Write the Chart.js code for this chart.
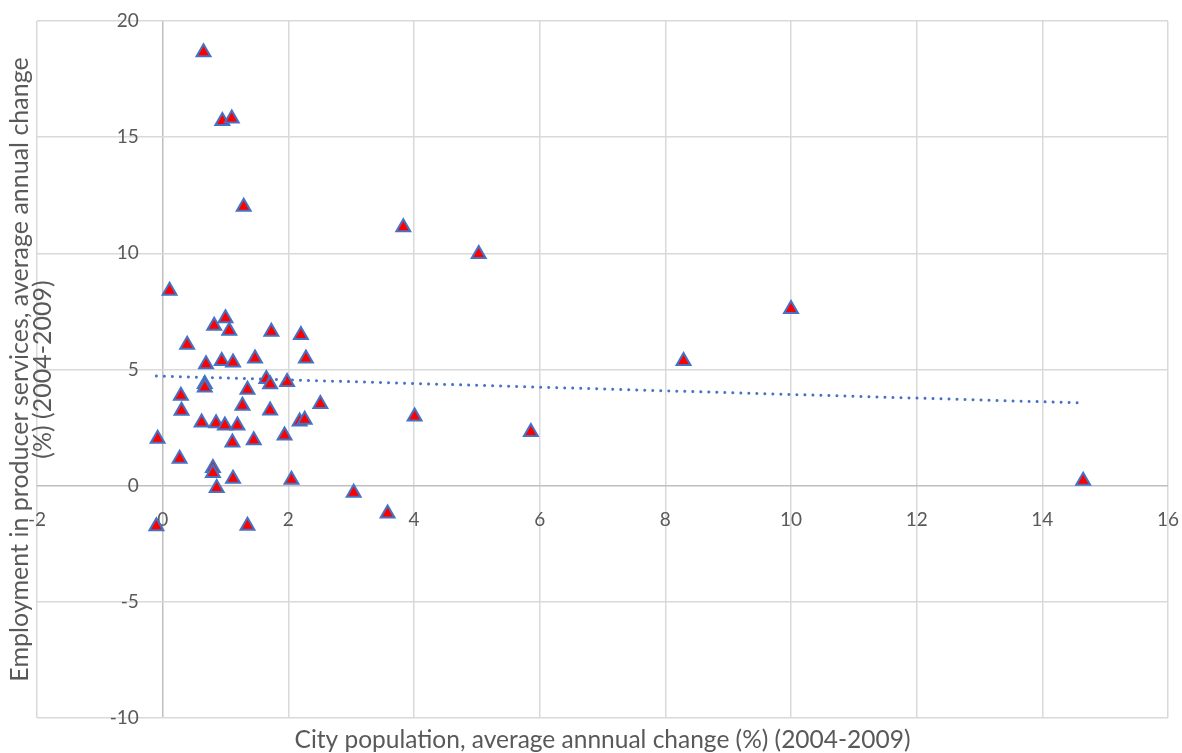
<!DOCTYPE html>
<html>
<head>
<meta charset="utf-8">
<script src="https://cdn.jsdelivr.net/npm/chart.js@4/dist/chart.umd.min.js"></script>
<style>
  body { margin: 0; background: #fff; }
  #wrap { width: 1182px; height: 753px; }
</style>
</head>
<body>
<div id="wrap"><canvas id="scatterChart"></canvas></div>
<script>
// city population change (%) vs producer services employment change (%)
var popChange = [0.65, 0.95, 1.10, 1.29, 3.83, 5.03, 0.11, 0.82, 1.00, 1.06, 0.39, 1.73, 2.20, 0.69, 0.94, 1.12, 1.47, 2.28,
  0.67, 0.67, 1.65, 1.71, 1.98, 0.29, 1.35, 0.30, 1.27, 1.71, 2.51, 0.62, 0.85, 0.99, 1.19, 2.18, 2.26, -0.08, 1.11, 1.45,
  1.94, 0.27, 0.80, 0.80, 1.12, 2.05, 0.86, -0.10, 1.35, 3.04, 3.58, 4.01, 5.86, 8.29, 10.00, 14.65];
var empChange = [18.65, 15.70, 15.80, 12.00, 11.12, 9.97, 8.39, 6.88, 7.21, 6.67, 6.06, 6.63, 6.49, 5.23, 5.37, 5.30, 5.47, 5.47,
  4.38, 4.22, 4.59, 4.37, 4.46, 3.87, 4.13, 3.22, 3.44, 3.24, 3.52, 2.72, 2.69, 2.59, 2.59, 2.76, 2.84, 2.02, 1.86, 1.95,
  2.16, 1.16, 0.76, 0.55, 0.30, 0.26, -0.10, -1.75, -1.72, -0.31, -1.20, 2.98, 2.31, 5.37, 7.60, 0.21];

// linear trendline end points
var trendX = [-0.10, 14.65];
var trendY = [4.72, 3.56];

var xMin = -2, xMax = 16, xStep = 2;
var yMin = -10, yMax = 20, yStep = 5;

var points = popChange.map(function (x, i) { return { x: x, y: empChange[i] }; });
var trend = trendX.map(function (x, i) { return { x: x, y: trendY[i] }; });

var textColor = '#595959';
var fontName = 'Lato, "Open Sans", sans-serif';

// zero line a bit darker than the other grid lines
function gridColor(c) {
    return c.tick && c.tick.value === 0 ? '#bfbfbf' : '#d9d9d9';
}
// tick-only axes must not push the plot area in
function noPadding(scale) {
    scale.paddingTop = 0;
    scale.paddingBottom = 0;
    scale.paddingLeft = 0;
    scale.paddingRight = 0;
}

var ctx = document.getElementById('scatterChart').getContext('2d');
var scatterChart = new Chart(ctx, {
    type: 'scatter',
    data: {
        datasets: [
            {
                type: 'line',
                label: 'Linear trend',
                data: trend,
                borderColor: '#4472c4',
                borderWidth: 3,
                borderDash: [0.01, 8],
                borderCapStyle: 'round',
                pointRadius: 0,
                fill: false
            },
            {
                label: 'Cities',
                data: points,
                pointStyle: 'triangle',
                pointRadius: 8,
                backgroundColor: '#ff0000',
                borderColor: '#4472c4',
                borderWidth: 2
            }
        ]
    },
    options: {
        responsive: true,
        maintainAspectRatio: false,
        animation: false,
        layout: { padding: { left: 0, right: 14, top: 21, bottom: 0 } },
        plugins: {
            legend: { display: false },
            tooltip: { enabled: false }
        },
        scales: {
            x: {
                type: 'linear',
                position: 'bottom',
                min: xMin, max: xMax,
                ticks: { display: false, stepSize: xStep },
                grid: { color: gridColor, lineWidth: 1.5, drawTicks: false },
                border: { display: false },
                title: {
                    display: true,
                    text: 'City population, average annnual change (%) (2004-2009)',
                    color: textColor,
                    font: { family: fontName, size: 24.5 },
                    padding: { top: 7.3, bottom: -1.7 }
                }
            },
            y: {
                type: 'linear',
                position: 'left',
                min: yMin, max: yMax,
                ticks: { display: false, stepSize: yStep },
                grid: { color: gridColor, lineWidth: 1.5, drawTicks: false },
                border: { display: false },
                title: {
                    display: true,
                    text: ['Employment in producer services, average annual change', '(%) (2004-2009)'],
                    color: textColor,
                    font: { family: fontName, size: 25, lineHeight: 0.92 },
                    padding: { top: 8.5, bottom: -17.5 }
                }
            },
            // tick labels sitting on the zero lines
            xz: {
                type: 'linear',
                position: { y: 0 },
                min: xMin, max: xMax,
                ticks: { stepSize: xStep, color: textColor, font: { family: fontName, size: 19 }, padding: 23, maxRotation: 0 },
                grid: { display: false, drawTicks: false },
                border: { display: false },
                afterFit: noPadding
            },
            yz: {
                type: 'linear',
                position: { x: -0.38 },
                min: yMin, max: yMax,
                ticks: { stepSize: yStep, color: textColor, font: { family: fontName, size: 19 } },
                grid: { display: false, drawTicks: false },
                border: { display: false },
                afterFit: noPadding
            }
        }
    }
});
</script>
</body>
</html>
